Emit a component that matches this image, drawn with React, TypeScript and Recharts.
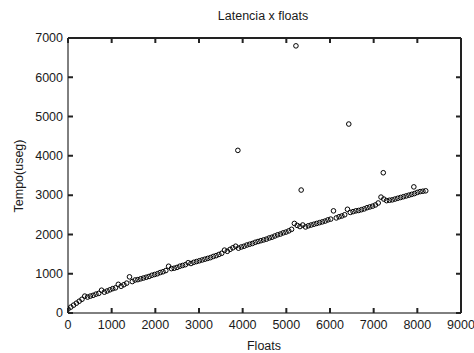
import React from 'react';
import { ScatterChart, Scatter, XAxis, YAxis, ReferenceLine } from 'recharts';

// main chain of measurements
const floats = [
  0, 64, 128, 192, 256, 320, 384, 448, 512, 576, 640, 704, 768, 832, 896, 960,
  1024, 1088, 1152, 1216, 1280, 1344, 1408, 1472, 1536, 1600, 1664, 1728, 1792, 1856, 1920, 1984,
  2048, 2112, 2176, 2240, 2304, 2368, 2432, 2496, 2560, 2624, 2688, 2752, 2816, 2880, 2944, 3008,
  3072, 3136, 3200, 3264, 3328, 3392, 3456, 3520, 3584, 3648, 3712, 3776, 3840, 3904, 3968, 4032,
  4096, 4160, 4224, 4288, 4352, 4416, 4480, 4544, 4608, 4672, 4736, 4800, 4864, 4928, 4992, 5056,
  5120, 5184, 5248, 5312, 5376, 5440, 5504, 5568, 5632, 5696, 5760, 5824, 5888, 5952, 6016, 6080,
  6144, 6208, 6272, 6336, 6400, 6464, 6528, 6592, 6656, 6720, 6784, 6848, 6912, 6976, 7040, 7104,
  7168, 7232, 7296, 7360, 7424, 7488, 7552, 7616, 7680, 7744, 7808, 7872, 7936, 8000, 8064, 8128,
  8192,
];
const tempo = [
  100, 150, 200, 250, 300, 350, 430, 405, 430, 450, 480, 500, 580, 530, 560, 590,
  620, 640, 730, 680, 720, 760, 920, 800, 840, 850, 870, 890, 910, 930, 960, 980,
  1000, 1030, 1050, 1080, 1190, 1130, 1140, 1160, 1190, 1210, 1230, 1280, 1260, 1290, 1310, 1330,
  1350, 1370, 1390, 1410, 1440, 1460, 1490, 1520, 1600, 1570, 1620, 1660, 1700, 1650, 1680, 1700,
  1730, 1750, 1770, 1800, 1820, 1840, 1860, 1880, 1910, 1930, 1960, 1990, 2010, 2040, 2060, 2090,
  2130, 2280, 2230, 2200, 2240, 2190, 2220, 2240, 2260, 2280, 2300, 2320, 2340, 2370, 2390, 2600,
  2420, 2450, 2470, 2500, 2640, 2560, 2580, 2600, 2610, 2630, 2650, 2680, 2700, 2720, 2750, 2800,
  2950, 2900, 2860, 2870, 2880, 2900, 2920, 2940, 2960, 2980, 3000, 3020, 3040, 3070, 3090, 3100,
  3110,
];

// isolated spikes
const outlierFloats = [3890, 5220, 5340, 6430, 7220, 7920];
const outlierTempo = [4140, 6800, 3130, 4810, 3570, 3210];

const xTicks = [0, 1000, 2000, 3000, 4000, 5000, 6000, 7000, 8000, 9000];
const yTicks = [0, 1000, 2000, 3000, 4000, 5000, 6000, 7000];

const points = floats.map((f, i) => ({ floats: f, tempo: tempo[i] }));
const outliers = outlierFloats.map((f, i) => ({ floats: f, tempo: outlierTempo[i] }));

const FONT = '"Liberation Sans", Arial, sans-serif';
const TEXT = '#1a1a1a';
// plot box size, used to mirror tick marks on the top/right edges
const PLOT_W = 393;
const PLOT_H = 275;
const TICK = 5;
const LINE_W = 2;

const XTick = (props: any) => {
  const { x, y, payload } = props;
  return (
    <g>
      <path d={`M${x},${y}V${y - TICK}M${x},${y - PLOT_H}V${y - PLOT_H + TICK}`} stroke="#222" strokeWidth={LINE_W} fill="none" />
      <text x={x} y={y + 15.5} textAnchor="middle" fill={TEXT} fontSize={12.5} fontFamily={FONT}>
        {payload.value}
      </text>
    </g>
  );
};

const YTick = (props: any) => {
  const { x, y, payload } = props;
  return (
    <g>
      <path d={`M${x},${y}H${x + TICK}M${x + PLOT_W},${y}H${x + PLOT_W - TICK}`} stroke="#222" strokeWidth={LINE_W} fill="none" />
      <text x={x - 5} y={y + 4.3} textAnchor="end" fill={TEXT} fontSize={12.5} fontFamily={FONT}>
        {payload.value}
      </text>
    </g>
  );
};

const OpenCircle = (props: any) => (
  <circle cx={props.cx} cy={props.cy} r={2.3} fill="none" stroke="#000" strokeWidth={1} />
);

const App: React.FC = () => {
  return (
    <div style={{ position: 'relative', width: 474, height: 353, background: '#fff', fontFamily: FONT, color: TEXT }}>
      <style>{`body{margin:0}`}</style>
      <ScatterChart width={474} height={353} margin={{ top: 38, right: 13, bottom: 0, left: 0 }}>
        <XAxis
          type="number"
          dataKey="floats"
          domain={[0, 9000]}
          ticks={xTicks}
          interval={0}
          height={40}
          tickSize={0}
          tickMargin={0}
          tickLine={false}
          tick={XTick}
          stroke="#000"
          allowDataOverflow
        />
        <YAxis
          type="number"
          dataKey="tempo"
          domain={[0, 7000]}
          ticks={yTicks}
          interval={0}
          width={68}
          tickSize={0}
          tickMargin={0}
          tickLine={false}
          tick={YTick}
          stroke="#000"
          allowDataOverflow
        />
        <ReferenceLine y={7000} stroke="#222" strokeWidth={LINE_W} ifOverflow="visible" />
        <ReferenceLine x={9000} stroke="#222" strokeWidth={LINE_W} ifOverflow="visible" />
        <Scatter data={points} shape={OpenCircle} isAnimationActive={false} />
        <Scatter data={outliers} shape={OpenCircle} isAnimationActive={false} />
      </ScatterChart>

      <div style={{ position: 'absolute', left: 163, top: 8, width: 200, textAlign: 'center', fontSize: 12.5, lineHeight: '16px' }}>
        Latencia x floats
      </div>
      <div style={{ position: 'absolute', left: 214, top: 338, width: 100, textAlign: 'center', fontSize: 12.5, lineHeight: '16px' }}>
        Floats
      </div>
      <div
        style={{
          position: 'absolute', left: -31, top: 168, width: 100, textAlign: 'center',
          fontSize: 12.5, lineHeight: '16px', transform: 'rotate(-90deg)',
        }}
      >
        Tempo(useg)
      </div>
    </div>
  );
};

export default App;
